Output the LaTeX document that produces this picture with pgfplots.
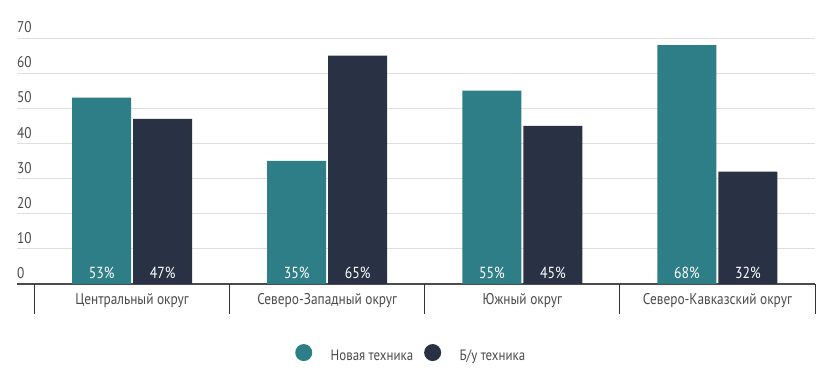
\documentclass[border=0pt]{standalone}
\usepackage{pgfplots}
\pgfplotsset{compat=1.18}
\usepackage{fontspec}
\setmainfont{PT Sans}[FakeStretch=0.86]
\definecolor{cNew}{HTML}{2E7E87}
\definecolor{cOld}{HTML}{293244}
\definecolor{cTxt}{HTML}{4A4A4A}
\begin{document}
\begin{tikzpicture}
\useasboundingbox (0,0) rectangle (830pt,371pt);
\begin{axis}[
  at={(17pt,87pt)}, anchor=south west,
  scale only axis, width=798pt, height=246pt,
  xmin=-0.59, xmax=3.5, ymin=0, ymax=70,
  axis x line*=bottom, axis y line*=left,
  y axis line style={draw=none},
  x axis line style={draw=black!70, line width=1.6pt, -},
  font=\fontsize{15.5}{17}\selectfont,
  /pgf/number format/assume math mode=true,
  ytick={0,10,...,70},
  ymajorgrids, grid style={black!13, line width=0.8pt},
  major tick length=0pt,
  yticklabel style={anchor=south west, inner sep=0pt, yshift=5pt, text=cTxt},
  xtick={0,1,2,3},
  xticklabels={Центральный округ, Северо-Западный округ, Южный округ, Северо-Кавказский округ},
  xticklabel style={text=cTxt, yshift=-6pt},
  extra x ticks={-0.5,0.5,1.5,2.5,3.5},
  extra x tick labels={},
  extra x tick style={major tick length=30pt, tick align=outside, xmajorgrids=false, tick style={draw=black!80, line width=0.8pt}},
  legend style={at={(0.494,-0.284)}, anchor=center, draw=none, fill=none, legend columns=2,
    /tikz/every even column/.append style={column sep=9pt}, text=cTxt, font=\fontsize{15}{17}\selectfont},
  legend cell align=left,
]
\addplot[ybar, bar width=59pt, bar shift=-30.5pt, fill=cNew, draw=none,
  legend image code/.code={\fill[cNew] (0pt,0.3em) circle (8.5pt); \path[draw=none,fill=none] (8pt,0pt) rectangle (25pt,0.1pt);}]
  coordinates {(0,53) (1,35) (2,55) (3,68)};
\addlegendentry{Новая техника}
\addplot[ybar, bar width=59pt, bar shift=30.5pt, fill=cOld, draw=none,
  legend image code/.code={\fill[cOld] (0pt,0.3em) circle (8.5pt); \path[draw=none,fill=none] (8pt,0pt) rectangle (25pt,0.1pt);}]
  coordinates {(0,47) (1,65) (2,45) (3,32)};
\addlegendentry{Б/у техника}
\addplot[forget plot, draw=none, mark=none, nodes near coords, point meta=explicit symbolic,
  nodes near coords style={anchor=base, inner sep=0pt, yshift=5pt, xshift=-30.5pt, text=white, font=\fontsize{16}{18}\selectfont}]
  coordinates {(0,0)[53\%] (1,0)[35\%] (2,0)[55\%] (3,0)[68\%]};
\addplot[forget plot, draw=none, mark=none, nodes near coords, point meta=explicit symbolic,
  nodes near coords style={anchor=base, inner sep=0pt, yshift=5pt, xshift=30.5pt, text=white, font=\fontsize{16}{18}\selectfont}]
  coordinates {(0,0)[47\%] (1,0)[65\%] (2,0)[45\%] (3,0)[32\%]};
\end{axis}
\end{tikzpicture}
\end{document}
